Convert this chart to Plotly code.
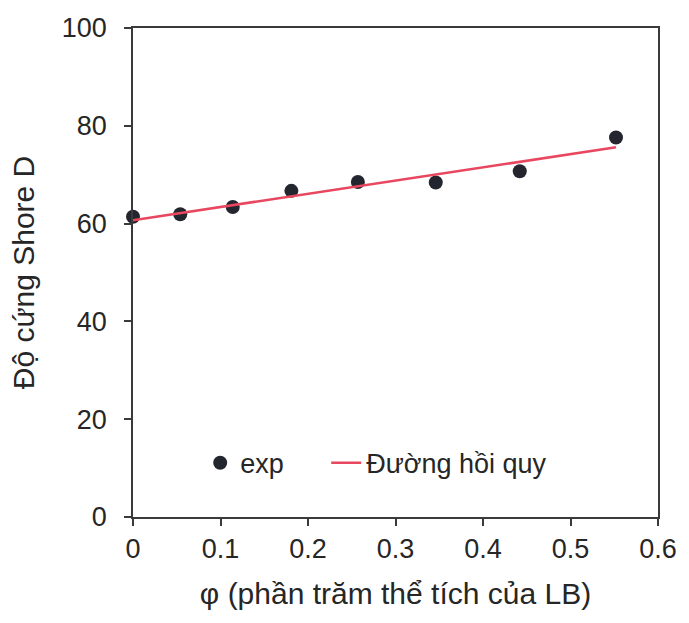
import plotly.graph_objects as go

# Volume fraction of LB and measured Shore D hardness
phi = [0.0, 0.054, 0.114, 0.181, 0.257, 0.346, 0.442, 0.552]
hardness = [61.4, 61.9, 63.4, 66.7, 68.5, 68.4, 70.7, 77.6]

# Regression line end points
fit_phi = [0.0, 0.552]
fit_hardness = [60.7, 75.6]

x_ticks = [0, 0.1, 0.2, 0.3, 0.4, 0.5, 0.6]
x_tick_text = ["0", "0.1", "0.2", "0.3", "0.4", "0.5", "0.6"]
y_ticks = [0, 20, 40, 60, 80, 100]

font_family = "Liberation Sans, Arial, sans-serif"
text_color = "#262626"
axis_color = "#3a3a3a"

fig = go.Figure()
fig.add_trace(go.Scatter(
    x=phi, y=hardness, mode="markers", name="exp",
    marker=dict(size=14, color="#23262e"),
    cliponaxis=False, legend="legend",
))
fig.add_trace(go.Scatter(
    x=fit_phi, y=fit_hardness, mode="lines", name="Đường hồi quy",
    line=dict(color="#e8475f", width=2.5), legend="legend2",
))

legend_style = dict(
    orientation="h", y=0.11, xanchor="left", yanchor="middle",
    bgcolor="rgba(0,0,0,0)", font=dict(size=27, color=text_color),
)

fig.update_layout(
    width=689, height=623,
    margin=dict(l=133, r=24, t=28, b=106),
    paper_bgcolor="white", plot_bgcolor="white",
    font=dict(family=font_family, size=27, color=text_color),
    showlegend=True,
    legend=dict(x=0.128, **legend_style),
    legend2=dict(x=0.368, **legend_style),
    xaxis=dict(
        range=[0, 0.6], tickvals=x_ticks, ticktext=x_tick_text,
        showgrid=False, zeroline=False,
        showline=True, linecolor=axis_color, linewidth=1.5, mirror=True,
        ticks="outside", ticklen=7, tickwidth=1.5, tickcolor=axis_color,
        tickfont=dict(size=27),
        title=dict(text="φ (phần trăm thể tích của LB)", font=dict(size=30), standoff=20),
    ),
    yaxis=dict(
        range=[0, 100], tickvals=y_ticks,
        showgrid=False, zeroline=False,
        showline=True, linecolor=axis_color, linewidth=1.5, mirror=True,
        ticks="outside", ticklen=7, tickwidth=1.5, tickcolor=axis_color,
        tickfont=dict(size=27), ticklabelstandoff=12,
        title=dict(text="Độ cứng Shore D", font=dict(size=30), standoff=18),
    ),
)

fig.write_html("out.html")
